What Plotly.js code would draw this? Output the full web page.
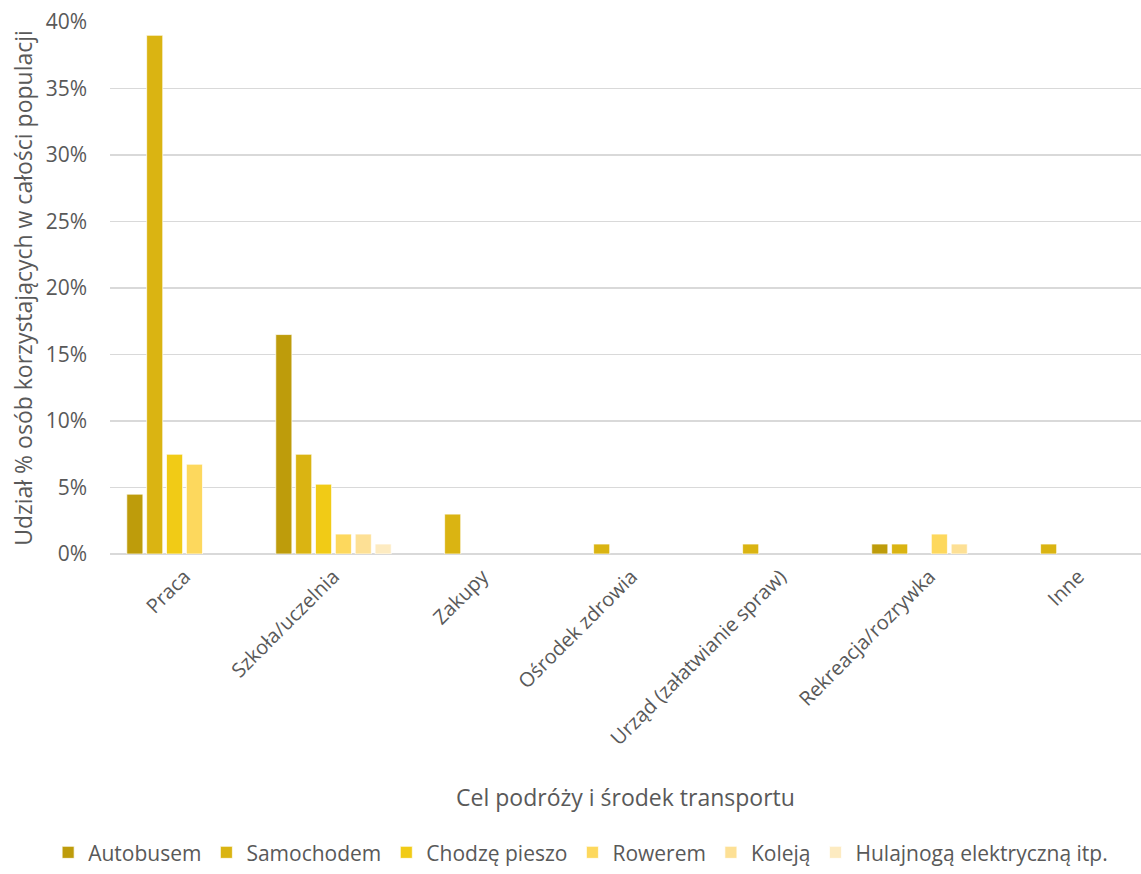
<!DOCTYPE html>
<html>
<head>
<meta charset="utf-8">
<script src="https://cdn.plot.ly/plotly-3.0.1.min.js"></script>
<style>html,body{margin:0;padding:0;background:#fff;}#chart{width:1141px;height:874px;}</style>
</head>
<body>
<div id="chart"></div>
<script>
const categories = ["Praca", "Szkoła/uczelnia", "Zakupy", "Ośrodek zdrowia", "Urząd (załatwianie spraw)", "Rekreacja/rozrywka", "Inne"];
const seriesNames = ["Autobusem", "Samochodem", "Chodzę pieszo", "Rowerem", "Koleją", "Hulajnogą elektryczną itp."];
const autobusem = [4.5, 16.5, 0, 0, 0, 0.75, 0];
const samochodem = [39.0, 7.5, 3.0, 0.75, 0.75, 0.75, 0.75];
const chodzePieszo = [7.5, 5.25, 0, 0, 0, 0, 0];
const rowerem = [6.75, 1.5, 0, 0, 0, 1.5, 0];
const koleja = [0, 1.5, 0, 0, 0, 0.75, 0];
const hulajnoga = [0, 0.75, 0, 0, 0, 0, 0];
const seriesValues = [autobusem, samochodem, chodzePieszo, rowerem, koleja, hulajnoga];
const colors = ["#BE9C0B", "#DAB412", "#F1CB16", "#FDD85D", "#FDE095", "#FDEBC1"];

const font = "Open Sans, sans-serif";
const grey = "#595959";

const traces = seriesNames.map((name, i) => ({
  type: "bar",
  name: name,
  x: categories,
  y: seriesValues[i].map(v => v === 0 ? null : v),
  marker: {color: colors[i], line: {color: "rgba(255,255,255,0.7)", width: 1}},
  hoverinfo: "skip"
}));

const layout = {
  width: 1141, height: 874,
  paper_bgcolor: "#fff", plot_bgcolor: "#fff",
  margin: {l: 110, r: 0, t: 22, b: 320, autoexpand: false},
  barmode: "group", bargap: 0.2, bargroupgap: 0.19,
  font: {family: font, color: grey, size: 20},
  xaxis: {
    range: [-0.5, 6.42],
    tickangle: -45,
    tickfont: {family: font, size: 20, color: grey},
    showgrid: false, zeroline: false, showline: false, ticks: "",
    ticklabelstandoff: 6,
    automargin: false,
    title: {text: "Cel podróży i środek transportu", font: {family: font, size: 23, color: grey}, standoff: 40}
  },
  yaxis: {
    range: [0, 40],
    dtick: 5,
    ticksuffix: "%",
    tickfont: {family: font, size: 21, color: grey},
    gridcolor: "#D9D9D9", gridwidth: 1.5,
    zeroline: true, zerolinecolor: "#D9D9D9", zerolinewidth: 1.5,
    showline: false, ticks: "",
    ticklabelstandoff: 22,
    automargin: false,
    title: {text: "Udział % osób korzystających w całości populacji", font: {family: font, size: 23, color: grey}, standoff: 6}
  },
  showlegend: true,
  legend: {
    orientation: "h", x: -0.06, xanchor: "left", y: -0.6, yanchor: "bottom",
    font: {family: font, size: 21, color: grey},
    itemwidth: 30, tracegroupgap: 0
  }
};

Plotly.newPlot("chart", traces, layout, {displayModeBar: false, staticPlot: true});
</script>
</body>
</html>
